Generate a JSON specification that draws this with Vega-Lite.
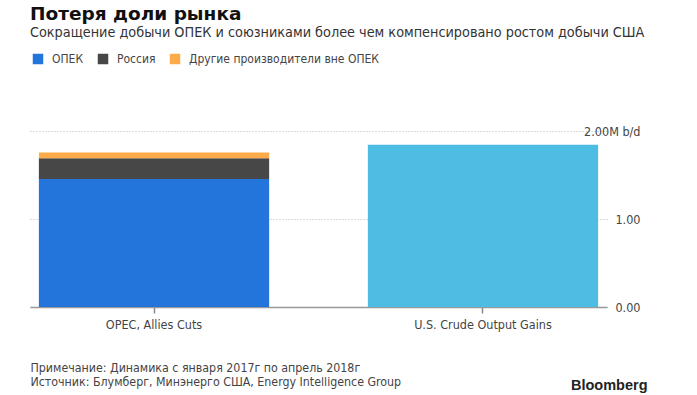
{
  "$schema": "https://vega.github.io/schema/vega-lite/v6.json",
  "autosize": "none",
  "width": 577,
  "height": 176,
  "padding": {"left": 30, "top": 131, "right": 90, "bottom": 88},
  "background": "white",
  "config": {"view": {"stroke": null}, "font": "DejaVu Sans Condensed"},
  "title": {
    "text": "Потеря доли рынка",
    "subtitle": "Сокращение добычи ОПЕК и союзниками более чем компенсировано ростом добычи США",
    "anchor": "start",
    "frame": "group",
    "offset": 12.5,
    "font": "DejaVu Sans",
    "fontSize": 18.5,
    "fontWeight": "bold",
    "color": "#111111",
    "subtitleFont": "DejaVu Sans Condensed",
    "subtitleFontSize": 14.3,
    "subtitleColor": "#333333",
    "subtitlePadding": 3
  },
  "data": {
    "values": [
      {"cat": "OPEC, Allies Cuts", "group": "ОПЕК", "value": 1.454, "ord": 1},
      {"cat": "OPEC, Allies Cuts", "group": "Россия", "value": 0.236, "ord": 2},
      {"cat": "OPEC, Allies Cuts", "group": "Другие производители вне ОПЕК", "value": 0.065, "ord": 3},
      {"cat": "U.S. Crude Output Gains", "group": "США", "value": 1.845, "ord": 4}
    ]
  },
  "mark": {"type": "bar"},
  "encoding": {
    "x": {
      "field": "cat",
      "type": "nominal",
      "sort": null,
      "scale": {"paddingInner": 0.3, "paddingOuter": 0.027},
      "axis": {
        "labelAngle": 0,
        "labelFontSize": 12.5,
        "labelColor": "#444444",
        "labelPadding": 5,
        "domainColor": "#999999",
        "domainWidth": 1.5,
        "tickColor": "#888888",
        "tickSize": 6,
        "tickWidth": 1.5,
        "title": ["Примечание: Динамика с января 2017г по апрель 2018г", "Источник: Блумберг, Минэнерго США, Energy Intelligence Group"],
        "titleFont": "DejaVu Sans Condensed",
        "titleFontSize": 12.3,
        "titleFontWeight": "normal",
        "titleColor": "#444444",
        "titleAnchor": "start",
        "titleAlign": "left",
        "titleBaseline": "alphabetic",
        "titleX": 0,
        "titleY": 64.5,
        "titleLineHeight": 13.5
      }
    },
    "y": {
      "field": "value",
      "type": "quantitative",
      "stack": "zero",
      "scale": {"domain": [0, 2], "nice": false},
      "axis": {
        "orient": "right",
        "values": [0, 1, 2],
        "labelExpr": "datum.value == 2 ? '2.00M b/d' : format(datum.value, '.2f')",
        "labelAlign": "right",
        "labelBaseline": "middle",
        "labelPadding": 33,
        "labelFontSize": 12.5,
        "labelColor": "#444444",
        "ticks": false,
        "domain": false,
        "grid": true,
        "gridColor": "#bbbbbb",
        "gridDash": [1, 2],
        "title": "Bloomberg",
        "titleFont": "Liberation Sans",
        "titleFontSize": 14.5,
        "titleFontWeight": "bold",
        "titleColor": "#222222",
        "titleAngle": 0,
        "titleAlign": "right",
        "titleBaseline": "alphabetic",
        "titleX": 40,
        "titleY": 258
      }
    },
    "color": {
      "field": "group",
      "type": "nominal",
      "scale": {
        "domain": ["ОПЕК", "Россия", "Другие производители вне ОПЕК", "США"],
        "range": ["#2375db", "#474747", "#fdaa48", "#4dbde3"]
      },
      "legend": {
        "values": ["ОПЕК", "Россия", "Другие производители вне ОПЕК"],
        "orient": "none",
        "direction": "horizontal",
        "legendX": 2,
        "legendY": -78,
        "title": null,
        "symbolType": "square",
        "symbolSize": 110,
        "symbolStrokeWidth": 0,
        "labelFontSize": 12,
        "labelColor": "#444444",
        "labelOffset": 8,
        "labelLimit": 0,
        "columnPadding": 13,
        "padding": 0
      }
    },
    "order": {"field": "ord", "type": "quantitative"}
  }
}
